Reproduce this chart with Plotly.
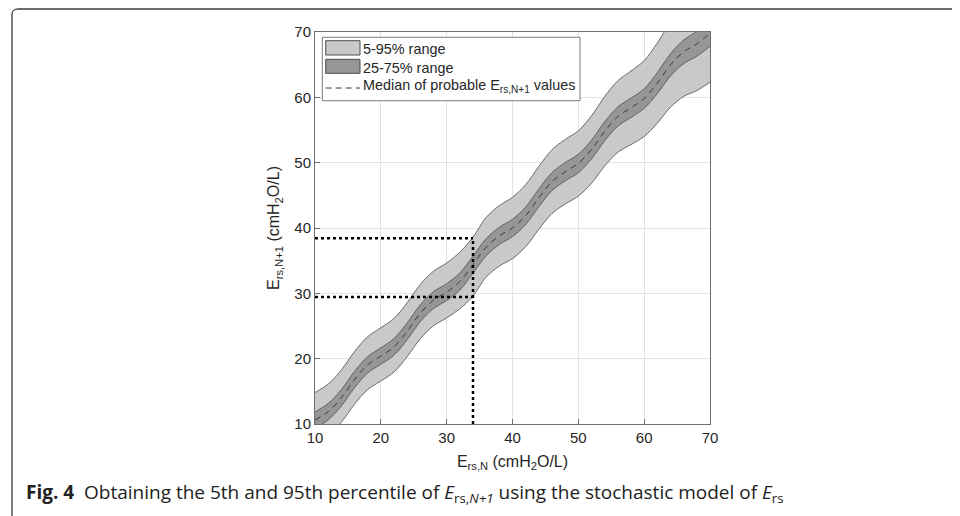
import plotly.graph_objects as go

# ---- data ----
x_vals = [10, 12, 14, 16, 18, 20, 22, 24, 26, 28, 30, 32, 34, 36, 38, 40,
          42, 44, 46, 48, 50, 52, 54, 56, 58, 60, 62, 64, 66, 68, 70]
p5 = [6.91, 8.15, 10.26, 13.02, 15.26, 16.57, 17.96, 20.31, 23.06, 25.03, 26.24, 27.63, 29.6, 32.50, 34.17, 35.32,
      37.13, 39.80, 42.22, 43.67, 44.88, 46.85, 49.48, 51.58, 52.76, 54.01, 56.05, 58.48, 60.14, 61.03, 62.31]
p25 = [9.36, 10.63, 12.76, 15.55, 17.81, 19.15, 20.54, 22.91, 25.68, 27.67, 28.90, 30.51, 33.10, 35.75, 37.48, 38.68,
       40.54, 43.25, 45.72, 47.21, 48.46, 50.57, 53.35, 55.59, 56.92, 58.31, 60.59, 63.26, 65.16, 66.29, 67.81]
p50 = [10.61, 11.88, 14.01, 16.80, 19.06, 20.40, 21.81, 24.19, 26.96, 28.96, 30.19, 31.81, 34.40, 37.06, 38.80, 40.01,
       41.88, 44.61, 47.10, 48.61, 49.88, 52.01, 54.80, 57.06, 58.40, 59.81, 62.19, 64.96, 66.96, 68.19, 69.81]
p75 = [11.86, 13.13, 15.26, 18.05, 20.31, 21.65, 23.08, 25.47, 28.24, 30.25, 31.48, 33.11, 35.70, 38.37, 40.12, 41.34,
       43.22, 45.97, 48.48, 50.01, 51.30, 53.45, 56.25, 58.53, 59.88, 61.31, 63.79, 66.66, 68.76, 70.09, 71.81]
p95 = [14.81, 16.11, 18.26, 21.08, 23.36, 24.73, 26.16, 28.57, 31.36, 33.39, 34.64, 36.29, 38.6, 41.62, 43.43, 44.70,
       46.63, 49.42, 51.98, 53.55, 54.88, 57.17, 60.12, 62.54, 64.04, 65.61, 68.33, 71.44, 73.78, 75.35, 77.31]

x_query = 34
y_low = 29.45
y_high = 38.45
axis_min = 10
axis_max = 70
ticks = [10, 20, 30, 40, 50, 60, 70]
legend_labels = ["5-95% range", "25-75% range", "Median of probable E<sub>rs,N+1</sub> values"]

light = "#c9c9c9"
dark = "#969696"
edge = "#4d4d4d"
FONT = "Liberation Sans, Arial, sans-serif"

fig = go.Figure()

fig.add_trace(go.Scatter(x=x_vals, y=p5, mode="lines", line=dict(color=edge, width=0.8, shape="spline"),
                         showlegend=False, hoverinfo="skip"))
fig.add_trace(go.Scatter(x=x_vals, y=p95, mode="lines", fill="tonexty", fillcolor=light,
                         line=dict(color=edge, width=0.8, shape="spline"), showlegend=False))
fig.add_trace(go.Scatter(x=x_vals, y=p25, mode="lines", line=dict(color=edge, width=0.8, shape="spline"),
                         showlegend=False, hoverinfo="skip"))
fig.add_trace(go.Scatter(x=x_vals, y=p75, mode="lines", fill="tonexty", fillcolor=dark,
                         line=dict(color=edge, width=0.8, shape="spline"), showlegend=False))
fig.add_trace(go.Scatter(x=x_vals, y=p50, mode="lines",
                         line=dict(color="#3a3a3a", width=1, dash="6px,5px", shape="spline"),
                         showlegend=False))

dot = dict(color="black", width=2.5, dash="dot")
fig.add_trace(go.Scatter(x=[axis_min, x_query], y=[y_high, y_high], mode="lines", line=dot,
                         showlegend=False, hoverinfo="skip"))
fig.add_trace(go.Scatter(x=[axis_min, x_query], y=[y_low, y_low], mode="lines", line=dot,
                         showlegend=False, hoverinfo="skip"))
fig.add_trace(go.Scatter(x=[x_query, x_query], y=[axis_min, y_high], mode="lines", line=dot,
                         showlegend=False, hoverinfo="skip"))

axis_common = dict(range=[axis_min, axis_max], tickvals=ticks, showgrid=True, gridcolor="#e3e3e3",
                   gridwidth=1, showline=True, linecolor="#6e6e6e", linewidth=1, mirror=True,
                   ticks="inside", ticklen=5, tickcolor="#6e6e6e", zeroline=False,
                   tickfont=dict(family=FONT, size=15, color="#262626"))

fig.update_layout(
    width=952, height=508,
    margin=dict(l=307, r=250, t=24, b=92),
    paper_bgcolor="white", plot_bgcolor="white",
    font=dict(family=FONT, color="#262626"),
    xaxis=dict(**axis_common,
               title=dict(text="E<sub>rs,N</sub> (cmH<sub>2</sub>O/L)", font=dict(size=16), standoff=10)),
    yaxis=dict(**axis_common,
               title=dict(text="E<sub>rs,N+1</sub> (cmH<sub>2</sub>O/L)", font=dict(size=16), standoff=10)),
    showlegend=False,
)

# ---- legend drawn as shapes (MATLAB style) ----
fig.add_shape(type="rect", xref="paper", yref="paper", x0=0.0185, x1=0.6709, y0=0.8247, y1=0.9865,
              fillcolor="white", line=dict(color="#7a7a7a", width=1), layer="above")
fig.add_shape(type="rect", xref="paper", yref="paper", x0=0.0271, x1=0.1139, y0=0.9413, y1=0.9778,
              fillcolor=light, line=dict(color=edge, width=1), layer="above")
fig.add_shape(type="rect", xref="paper", yref="paper", x0=0.0271, x1=0.1139, y0=0.8946, y1=0.9304,
              fillcolor=dark, line=dict(color=edge, width=1), layer="above")
fig.add_shape(type="line", xref="paper", yref="paper", x0=0.0271, x1=0.1139, y0=0.8571, y1=0.8571,
              line=dict(color="#3a3a3a", width=1, dash="6px,4px"), layer="above")
for label, ly in zip(legend_labels, [0.9566, 0.9089, 0.8622]):
    fig.add_annotation(xref="paper", yref="paper", x=0.1165, y=ly, xanchor="left", yanchor="middle",
                       showarrow=False, text=label, font=dict(family=FONT, size=14.4, color="#262626"))

# ---- figure frame (journal box) ----
fig.add_shape(type="line", xref="paper", yref="paper", x0=-0.752, x1=1.64, y0=1.0587, y1=1.0587,
              line=dict(color="#6a6a6a", width=2))
fig.add_shape(type="path", xref="paper", yref="paper",
              path="M -0.7671,-0.25 L -0.7671,1.0434 Q -0.7671,1.0587 -0.7519,1.0587",
              line=dict(color="black", width=1))

fig.add_annotation(xref="paper", yref="paper", x=-0.737, y=-0.176, xanchor="left", yanchor="middle",
                   showarrow=False,
                   text="<b>Fig. 4</b>  Obtaining the 5th and 95th percentile of <i>E</i><sub>rs,<i>N+1</i></sub> using the stochastic model of <i>E</i><sub>rs</sub>",
                   font=dict(family="Open Sans, Liberation Sans, sans-serif", size=19, color="#222"))

fig.write_html("out.html")
